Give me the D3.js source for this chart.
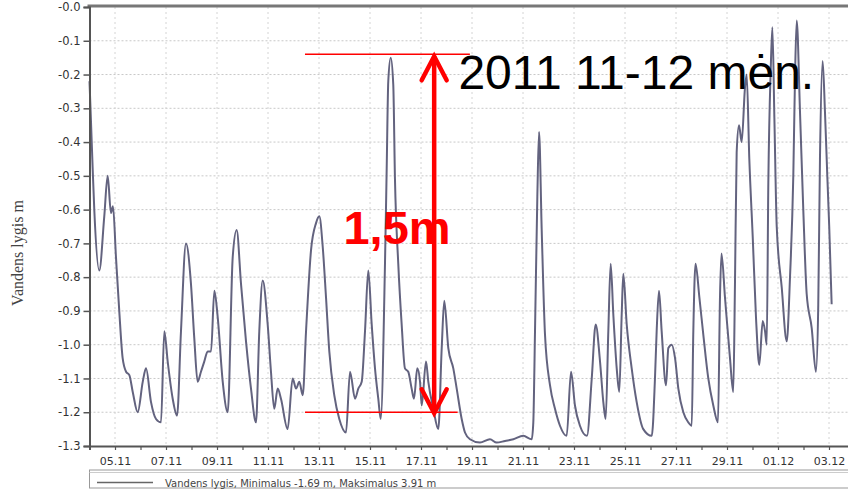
<!DOCTYPE html>
<html>
<head>
<meta charset="utf-8">
<script src="https://cdn.jsdelivr.net/npm/d3@7"></script>
<style>
  html, body { margin: 0; padding: 0; background: #fff; }
  svg { display: block; }
</style>
</head>
<body>
<svg id="chart" width="848" height="490"></svg>
<script>
// ---- data: hours since 2011-11-04 00:00, water level (m) ----
const hours = [
  0, 1.4, 3.0, 4.5, 9.2, 13.9, 17.1, 20.2, 22.1, 24.9,
  28.0, 31.2, 34.4, 37.5, 40.7, 45.4, 50.1, 53.2, 57.9, 62.6,
  67.3, 70.4, 73.6, 78.3, 82.4, 86.1, 90.8, 95.5, 98.6, 101.8,
  104.9, 108.0, 111.2, 114.4, 117.5, 120.7, 125.4, 130.1, 134.8, 138.5,
  142.6, 147.3, 152.0, 156.7, 159.8, 163.0, 167.7, 170.8, 173.9, 177.1,
  180.2, 186.5, 191.2, 194.4, 197.5, 200.7, 203.8, 208.5, 213.2, 216.3,
  219.5, 222.6, 225.7, 230.4, 235.1, 241.4, 245.2, 249.9, 253.0, 256.2,
  259.3, 262.4, 265.6, 268.7, 271.8, 274.1, 278.1, 279.7, 281.2, 283.5,
  285.9, 287.5, 290.6, 293.8, 296.9, 300.0, 303.2, 305.4, 308.5, 311.1,
  312.7, 316.7, 318.9, 323.6, 328.3, 331.5, 333.9, 337.7, 342.4, 345.6,
  350.3, 353.4, 358.1, 367.5, 376.9, 383.2, 391.1, 398.9, 408.3, 416.2,
  417.7, 419.3, 421.5, 423.1, 425.6, 428.7, 433.4, 438.1, 442.8, 449.1,
  453.2, 456.9, 461.6, 468.2, 472.7, 476.4, 480.5, 483.6, 485.8, 488.3,
  490.5, 493.0, 496.2, 498.6, 500.9, 502.4, 505.6, 510.3, 515.0, 521.2,
  529.2, 532.2, 533.8, 536.0, 538.5, 542.6, 544.8, 548.0, 551.1, 554.2,
  558.9, 563.6, 566.8, 568.3, 570.4, 574.0, 577.7, 582.4, 587.1, 591.5,
  593.4, 594.8, 598.1, 602.8, 605.9, 607.5, 609.1, 611.3, 613.8, 616.9,
  618.5, 621.0, 624.2, 627.3, 630.4, 633.6, 635.8, 637.4, 638.9, 641.2,
  642.7, 644.6, 646.8, 651.5, 656.2, 659.3, 662.4, 664.0, 665.6, 668.7,
  671.8, 675.0, 679.7, 683.7, 685.9, 687.5, 690.0, 692.2, 694.4, 696.2,
  698.5
];
const levels = [
  -0.22, -0.34, -0.48, -0.60, -0.78, -0.62, -0.50, -0.61, -0.59, -0.74,
  -0.90, -1.04, -1.08, -1.09, -1.14, -1.20, -1.11, -1.07, -1.17, -1.22,
  -1.23, -0.96, -1.05, -1.16, -1.21, -0.96, -0.70, -0.82, -0.98, -1.11,
  -1.08, -1.05, -1.02, -1.02, -0.84, -0.92, -1.11, -1.20, -0.74, -0.66,
  -0.82, -0.99, -1.13, -1.23, -0.96, -0.81, -0.94, -1.08, -1.19, -1.13,
  -1.16, -1.25, -1.10, -1.13, -1.11, -1.15, -0.96, -0.72, -0.64, -0.62,
  -0.71, -0.86, -1.02, -1.15, -1.22, -1.26, -1.08, -1.16, -1.13, -1.11,
  -0.96, -0.78, -0.94, -1.07, -1.16, -1.22, -0.76, -0.48, -0.22, -0.15,
  -0.23, -0.51, -0.76, -0.94, -1.07, -1.08, -1.13, -1.16, -1.07, -1.11,
  -1.18, -1.05, -1.11, -1.19, -1.25, -1.01, -0.87, -1.01, -1.07, -1.13,
  -1.22, -1.26, -1.28, -1.29, -1.28, -1.29, -1.285, -1.28, -1.27, -1.28,
  -1.23, -0.96, -0.56, -0.37, -0.66, -0.97, -1.12, -1.19, -1.24, -1.27,
  -1.08, -1.18, -1.24, -1.27, -1.10, -0.94, -1.05, -1.17, -1.22, -0.96,
  -0.76, -0.91, -1.07, -1.14, -0.91, -0.79, -0.94, -1.07, -1.17, -1.25,
  -1.27, -1.10, -0.96, -0.84, -0.96, -1.12, -1.01, -1.00, -1.04, -1.13,
  -1.20, -1.23, -1.24, -0.96, -0.76, -0.86, -0.97, -1.10, -1.18, -1.23,
  -0.86, -0.73, -0.86, -1.04, -1.14, -0.82, -0.43, -0.35, -0.40, -0.24,
  -0.20, -0.45, -0.68, -0.92, -1.06, -0.93, -0.96, -1.00, -0.52, -0.18,
  -0.06, -0.33, -0.65, -0.83, -0.99, -0.80, -0.50, -0.21, -0.04, -0.31,
  -0.60, -0.85, -0.95, -1.08, -0.88, -0.45, -0.16, -0.31, -0.50, -0.65,
  -0.88
];
const yTickValues = [0, -0.1, -0.2, -0.3, -0.4, -0.5, -0.6, -0.7, -0.8, -0.9, -1.0, -1.1, -1.2, -1.3];
const yTickLabels = ["-0.0", "-0.1", "-0.2", "-0.3", "-0.4", "-0.5", "-0.6", "-0.7", "-0.8", "-0.9", "-1.0", "-1.1", "-1.2", "-1.3"];
const xTickLabels = ["05.11", "07.11", "09.11", "11.11", "13.11", "15.11", "17.11", "19.11", "21.11", "23.11", "25.11", "27.11", "29.11", "01.12", "03.12"];
const yAxisTitle = "Vandens lygis m";
const legendText = "Vandens lygis, Minimalus -1.69 m, Maksimalus 3.91 m";
const annotationTop = -0.14, annotationBottom = -1.2;
const annotationLabel = "1,5m";
const periodLabel = "2011 11-12 mėn.";

// ---- build ----
(function () {
const start = new Date(2011, 10, 4, 0, 0);
const end = d3.timeHour.offset(start, 30.5 * 24);
const data = hours.map((h, i) => ({ t: new Date(start.getTime() + h * 3600e3), v: levels[i] }));
const parseLbl = s => { const [d, m] = s.split(".").map(Number); return new Date(2011, m - 1, d); };
const labelDates = xTickLabels.map(parseLbl);
const hAt = h => new Date(start.getTime() + h * 3600e3);

const svg = d3.select("#chart");
const pL = 89.5, pT = 7, pB = 446;
const x = d3.scaleTime().domain([start, end]).range([pL, pL + 25.5 * 30.5]);
const y = d3.scaleLinear().domain([-1.3, 0]).range([pB, pT]);

// grid
const grid = svg.append("g");
grid.selectAll("line.h").data(yTickValues.slice(1, -1)).join("line")
  .attr("x1", pL).attr("x2", 848).attr("y1", d => y(d)).attr("y2", d => y(d))
  .attr("stroke", "#c8c8c8").attr("stroke-width", 1).attr("stroke-dasharray", "2,2");
grid.selectAll("line.v").data(labelDates).join("line")
  .attr("x1", d => x(d)).attr("x2", d => x(d)).attr("y1", pT).attr("y2", pB)
  .attr("stroke", "#d4d4d4").attr("stroke-width", 1).attr("stroke-dasharray", "2,3");

// data line
svg.append("path").datum(data)
  .attr("fill", "none").attr("stroke", "#63637f").attr("stroke-width", 2)
  .attr("stroke-linejoin", "round")
  .attr("d", d3.line().x(d => x(d.t)).y(d => y(d.v)).curve(d3.curveMonotoneX));

// frame top
svg.append("line").attr("x1", pL - 2).attr("x2", 848).attr("y1", pT - 1).attr("y2", pT - 1)
  .attr("stroke", "#777").attr("stroke-width", 3);

// y axis
const yAxis = svg.append("g").attr("transform", `translate(${pL},0)`)
  .call(d3.axisLeft(y).tickValues(yTickValues).tickFormat((d, i) => yTickLabels[i]).tickSize(6).tickPadding(3));
yAxis.select(".domain").attr("stroke", "#555").attr("stroke-width", 2);
yAxis.selectAll(".tick line").attr("stroke", "#555").attr("stroke-width", 1.5);
yAxis.selectAll(".tick text").attr("fill", "#333").style("font-family", "DejaVu Sans, sans-serif").style("font-size", "11.5px");

// x axis
const xAxis = svg.append("g").attr("transform", `translate(0,${pB})`)
  .call(d3.axisBottom(x).ticks(d3.timeDay.every(1)).tickSizeOuter(0).tickSize(4)
    .tickFormat(d => { const s = d3.timeFormat("%d.%m")(d); return xTickLabels.includes(s) ? s : ""; }).tickPadding(7));
xAxis.select(".domain").attr("stroke", "#555").attr("stroke-width", 2);
xAxis.selectAll(".tick line").attr("stroke", "#555").attr("stroke-width", 1.2);
xAxis.selectAll(".tick text").attr("fill", "#333").style("font-family", "DejaVu Sans, sans-serif").style("font-size", "11px");

// y title
svg.append("text").attr("transform", "translate(23,253) rotate(-90)")
  .attr("text-anchor", "middle").attr("fill", "#444")
  .style("font-family", "Liberation Serif, serif").style("font-size", "16px").text(yAxisTitle);

// legend
svg.append("rect").attr("x", pL).attr("y", 470).attr("width", 770).attr("height", 18)
  .attr("fill", "#fff").attr("stroke", "#999").attr("stroke-width", 1);
svg.append("line").attr("x1", pL).attr("x2", 848).attr("y1", 472.5).attr("y2", 472.5).attr("stroke", "#ccc");
svg.append("line").attr("x1", 97).attr("x2", 153).attr("y1", 482.5).attr("y2", 482.5)
  .attr("stroke", "#666").attr("stroke-width", 1.5);
svg.append("text").attr("x", 165).attr("y", 486.5).attr("fill", "#444")
  .style("font-family", "DejaVu Sans, sans-serif").style("font-size", "10px").text(legendText);

// annotations
const red = "#ff0000";
const ann = svg.append("g");
ann.append("line").attr("x1", x(hAt(202.8))).attr("x2", x(hAt(358))).attr("y1", y(annotationTop)).attr("y2", y(annotationTop))
  .attr("stroke", red).attr("stroke-width", 1.5);
ann.append("line").attr("x1", x(hAt(202.8))).attr("x2", x(hAt(346.5))).attr("y1", y(annotationBottom)).attr("y2", y(annotationBottom))
  .attr("stroke", red).attr("stroke-width", 1.5);
const ax = x(hAt(324.4));
const yT = y(annotationTop) + 2, yB = y(annotationBottom) + 1;
ann.append("line").attr("x1", ax).attr("x2", ax).attr("y1", yT).attr("y2", yB)
  .attr("stroke", red).attr("stroke-width", 4.5);
ann.append("path").attr("d", `M${ax - 12.5},${yT + 24} L${ax},${yT} L${ax + 12.5},${yT + 24}`)
  .attr("fill", "none").attr("stroke", red).attr("stroke-width", 4.5).attr("stroke-linecap", "round").attr("stroke-linejoin", "miter");
ann.append("path").attr("d", `M${ax - 12.5},${yB - 24} L${ax},${yB} L${ax + 12.5},${yB - 24}`)
  .attr("fill", "none").attr("stroke", red).attr("stroke-width", 4.5).attr("stroke-linecap", "round").attr("stroke-linejoin", "miter");
ann.append("text").attr("x", x(hAt(239.0))).attr("y", 244).attr("fill", red)
  .style("font-family", "Liberation Sans, Arial, sans-serif").style("font-weight", "bold").style("font-size", "47px")
  .text(annotationLabel);
ann.append("text").attr("x", x(hAt(347.2))).attr("y", 89).attr("fill", "#000")
  .style("font-family", "Liberation Sans, Arial, sans-serif").style("font-size", "48px")
  .text(periodLabel);
})();
</script>
</body>
</html>
